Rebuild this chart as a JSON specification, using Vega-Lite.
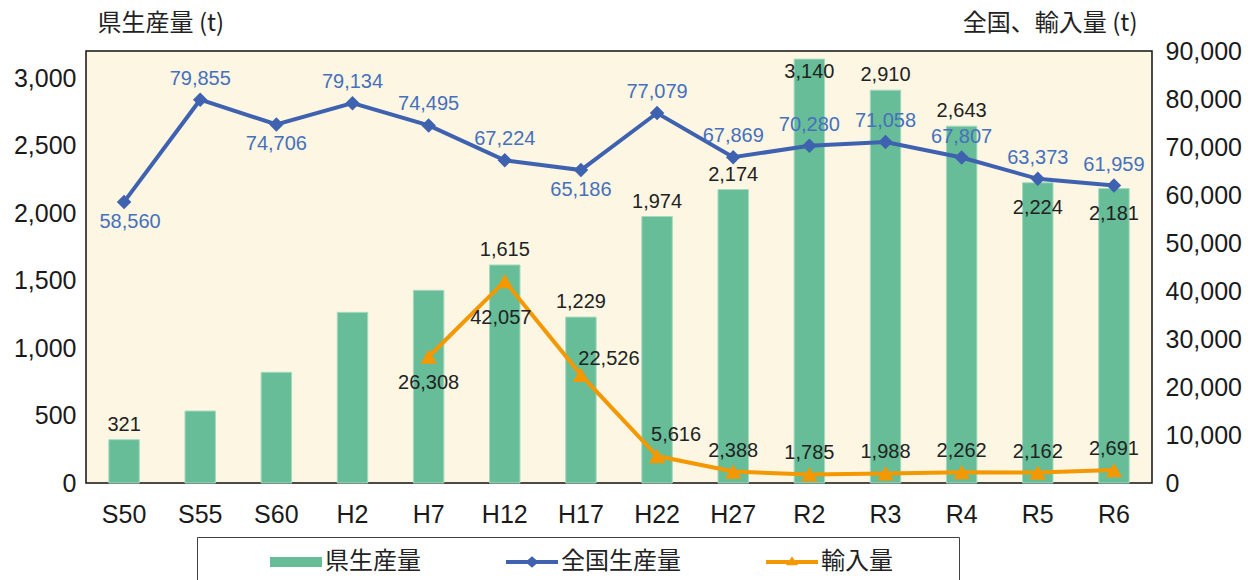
{
  "$schema": "https://vega.github.io/schema/vega-lite/v6.json",
  "width": 1066,
  "height": 432,
  "autosize": "none",
  "padding": {"left": 86, "top": 51, "right": 103, "bottom": 97},
  "background": "white",
  "config": {
    "view": {"fill": "#FDF6E3", "stroke": "#111", "strokeWidth": 1.5},
    "axis": {"labelFont": "Liberation Sans", "labelFontSize": 25, "labelColor": "#1a1a1a", "ticks": false, "domain": false, "grid": false},
    "legend": {
      "orient": "none", "legendX": 111, "legendY": 486, "direction": "horizontal",
      "titleOrient": "left", "titleFont": "Noto Sans CJK JP", "titleFontSize": 24, "titlePadding": 61,
      "symbolSize": 676, "symbolStrokeWidth": 0, "symbolOpacity": 1,
      "labelFont": "Noto Sans CJK JP", "labelFontSize": 24, "labelColor": "#222", "labelOffset": 29,
      "columnPadding": 85, "padding": 12, "strokeColor": "#404040", "fillColor": "white"
    }
  },
  "data": {
    "values": [
      {"year": "S50", "series": "県生産量", "value": 321},
      {"year": "S55", "series": "県生産量", "value": 533},
      {"year": "S60", "series": "県生産量", "value": 820},
      {"year": "H2", "series": "県生産量", "value": 1264},
      {"year": "H7", "series": "県生産量", "value": 1427},
      {"year": "H12", "series": "県生産量", "value": 1615},
      {"year": "H17", "series": "県生産量", "value": 1229},
      {"year": "H22", "series": "県生産量", "value": 1974},
      {"year": "H27", "series": "県生産量", "value": 2174},
      {"year": "R2", "series": "県生産量", "value": 3140},
      {"year": "R3", "series": "県生産量", "value": 2910},
      {"year": "R4", "series": "県生産量", "value": 2643},
      {"year": "R5", "series": "県生産量", "value": 2224},
      {"year": "R6", "series": "県生産量", "value": 2181},
      {"year": "S50", "series": "全国生産量", "value": 58560},
      {"year": "S55", "series": "全国生産量", "value": 79855},
      {"year": "S60", "series": "全国生産量", "value": 74706},
      {"year": "H2", "series": "全国生産量", "value": 79134},
      {"year": "H7", "series": "全国生産量", "value": 74495},
      {"year": "H12", "series": "全国生産量", "value": 67224},
      {"year": "H17", "series": "全国生産量", "value": 65186},
      {"year": "H22", "series": "全国生産量", "value": 77079},
      {"year": "H27", "series": "全国生産量", "value": 67869},
      {"year": "R2", "series": "全国生産量", "value": 70280},
      {"year": "R3", "series": "全国生産量", "value": 71058},
      {"year": "R4", "series": "全国生産量", "value": 67807},
      {"year": "R5", "series": "全国生産量", "value": 63373},
      {"year": "R6", "series": "全国生産量", "value": 61959},
      {"year": "H7", "series": "輸入量", "value": 26308},
      {"year": "H12", "series": "輸入量", "value": 42057},
      {"year": "H17", "series": "輸入量", "value": 22526},
      {"year": "H22", "series": "輸入量", "value": 5616},
      {"year": "H27", "series": "輸入量", "value": 2388},
      {"year": "R2", "series": "輸入量", "value": 1785},
      {"year": "R3", "series": "輸入量", "value": 1988},
      {"year": "R4", "series": "輸入量", "value": 2262},
      {"year": "R5", "series": "輸入量", "value": 2162},
      {"year": "R6", "series": "輸入量", "value": 2691}
    ]
  },
  "encoding": {
    "x": {
      "field": "year", "type": "nominal", "title": null,
      "scale": {"domain": ["S50","S55","S60","H2","H7","H12","H17","H22","H27","R2","R3","R4","R5","R6"], "paddingInner": 0.6, "paddingOuter": 0.3},
      "axis": {"labelAngle": 0, "labelPadding": 19, "labelFontSize": 25}
    }
  },
  "layer": [
    {
      "transform": [{"filter": "datum.series === '県生産量'"}],
      "encoding": {
        "y": {
          "field": "value", "type": "quantitative",
          "scale": {"domain": [0, 3200], "nice": false},
          "axis": {
            "orient": "left", "values": [0,500,1000,1500,2000,2500,3000], "format": ",.0f", "labelPadding": 10,
            "title": "県生産量 (t)", "titleAngle": 0, "titleX": 11, "titleY": -28, "titleAlign": "left", "titleBaseline": "middle",
            "titleFont": "Noto Sans CJK JP", "titleFontSize": 24, "titleFontWeight": "normal", "titleColor": "#222"
          }
        }
      },
      "layer": [
        {
          "mark": {"type": "bar", "stroke": "#A6D9C1", "strokeWidth": 1},
          "encoding": {
            "color": {
              "field": "series", "type": "nominal", "title": "\u3000",
              "scale": {"domain": ["県生産量","全国生産量","輸入量"], "range": ["#66BD97","#3F62B0","#F39800"]},
              "legend": {
                "labelExpr": "datum.label === '輸入量' ? datum.label + '\u2800\u2800\u2800' : datum.label"
              }
            }
          }
        },
        {
          "transform": [{"filter": "indexof(['S55','S60','H2','H7'], datum.year) < 0"}],
          "mark": {
            "type": "text", "font": "Liberation Sans", "fontSize": 20, "color": "#222", "baseline": "middle",
            "dy": {"expr": "datum.year === 'R2' ? 13 : (datum.year === 'R5' || datum.year === 'R6') ? 25 : -15"}
          },
          "encoding": {"text": {"field": "value", "type": "quantitative", "format": ","}}
        }
      ]
    },
    {
      "transform": [{"filter": "datum.series !== '県生産量'"}],
      "encoding": {
        "y": {
          "field": "value", "type": "quantitative",
          "scale": {"domain": [0, 90000], "nice": false},
          "axis": {
            "orient": "right", "values": [0,10000,20000,30000,40000,50000,60000,70000,80000,90000], "format": ",.0f", "labelPadding": 13,
            "title": "全国、輸入量 (t)", "titleAngle": 0, "titleX": -15, "titleY": -28, "titleAlign": "right", "titleBaseline": "middle",
            "titleFont": "Noto Sans CJK JP", "titleFontSize": 24, "titleFontWeight": "normal", "titleColor": "#222"
          }
        }
      },
      "layer": [
        {
          "mark": {"type": "line", "strokeWidth": 4},
          "encoding": {"color": {"field": "series", "type": "nominal", "title": "\u3000"}}
        },
        {
          "mark": {"type": "point", "filled": true, "opacity": 0, "size": 10},
          "encoding": {
            "color": {"field": "series", "type": "nominal", "title": "\u3000"},
            "shape": {
              "field": "series", "type": "nominal", "title": "\u3000",
              "scale": {
                "domain": ["県生産量","全国生産量","輸入量"],
                "range": ["M-1,-0.38H3V0.38H-1Z", "M-1,-0.15H3V0.15H-1ZM1,-0.45L1.5,0L1,0.45L0.5,0Z", "M-1,-0.15H3V0.15H-1ZM1,-0.42L1.47,0.25L0.53,0.25Z"]
              }
            }
          }
        },
        {
          "transform": [{"filter": "datum.series === '全国生産量'"}],
          "mark": {"type": "point", "shape": "diamond", "filled": true, "opacity": 1, "size": 210, "color": "#3F62B0"}
        },
        {
          "transform": [{"filter": "datum.series === '輸入量'"}],
          "mark": {"type": "point", "shape": "triangle-up", "filled": true, "opacity": 1, "size": 270, "color": "#F39800"}
        },
        {
          "transform": [{"filter": "datum.series === '全国生産量'"}],
          "mark": {
            "type": "text", "font": "Liberation Sans", "fontSize": 20, "color": "#4670BC", "baseline": "middle",
            "dx": {"expr": "datum.year === 'S50' ? 6 : 0"},
            "dy": {"expr": "indexof(['S50','S60','H17'], datum.year) >= 0 ? 20 : -21"}
          },
          "encoding": {"text": {"field": "value", "type": "quantitative", "format": ","}}
        },
        {
          "transform": [{"filter": "datum.series === '輸入量'"}],
          "mark": {
            "type": "text", "font": "Liberation Sans", "fontSize": 20, "color": "#222", "baseline": "middle",
            "dx": {"expr": "datum.year === 'H17' ? 28 : datum.year === 'H22' ? 19 : datum.year === 'H12' ? -4 : 0"},
            "dy": {"expr": "datum.year === 'H7' ? 26 : datum.year === 'H12' ? 37 : datum.year === 'H17' ? -16 : -21"}
          },
          "encoding": {"text": {"field": "value", "type": "quantitative", "format": ","}}
        }
      ]
    }
  ],
  "resolve": {"scale": {"y": "independent"}}
}
